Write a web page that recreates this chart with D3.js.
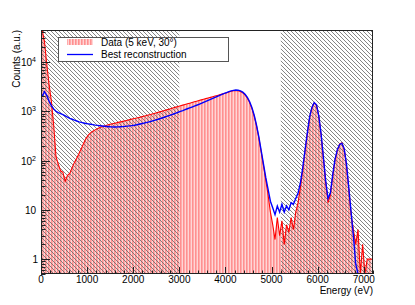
<!DOCTYPE html>
<html>
<head>
<meta charset="utf-8">
<script src="https://cdn.jsdelivr.net/npm/d3@7"></script>
<style>
  body { margin: 0; background: #fff; }
  text { font-family: "Liberation Sans", Arial, Helvetica, sans-serif; fill: #000; }
</style>
</head>
<body>
<svg id="chart"></svg>
<script>
const width = 415
const height = 305
const margin = {top: 30, right: 42, bottom: 31, left: 41}

// histogram binning (eV)
const binWidth = 50

// measured spectrum, 50 eV bins from 0 eV
const dataCounts = [
  45000, 26000, 9000, 3500, 1600, 520, 120, 85, 62, 58,
  38, 50, 55, 72, 92, 112, 140, 175, 225, 280,
  330, 365, 395, 420, 445, 468, 488, 505, 522, 538,
  552, 566, 580, 595, 610, 625, 642, 660, 678, 695,
  712, 730, 750, 770, 792, 815, 838, 862, 888, 914,
  942, 972, 1002, 1035, 1068, 1102, 1138, 1176, 1215, 1255,
  1295, 1335, 1375, 1418, 1462, 1508, 1555, 1605, 1655, 1705,
  1755, 1805, 1860, 1915, 1975, 2035, 2095, 2160, 2230, 2300,
  2380, 2460, 2540, 2610, 2640, 2610, 2530, 2380, 2160, 1860,
  1500, 1130, 790, 500, 285, 150, 78, 40, 20, 9,
  5, 2.5, 7, 3, 6, 2, 5, 3.5, 7, 4,
  9, 14, 28, 62, 150, 345, 740, 1180, 1480, 1330,
  790, 330, 110, 35, 14, 20, 47, 100, 160, 215,
  230, 170, 80, 26, 8, 4, 2, 4, 0, 2,
  0, 1, 1, 1
]

// best reconstruction, same bins
const recoCounts = [
  2000, 2500, 2100, 1600, 1300, 1120, 1000, 940, 900, 860,
  810, 760, 720, 690, 660, 635, 612, 595, 580, 565,
  555, 545, 535, 525, 517, 510, 504, 498, 492, 487,
  483, 480, 480, 482, 485, 489, 494, 499, 505, 512,
  520, 532, 545, 558, 572, 588, 604, 622, 640, 660,
  682, 705, 730, 758, 786, 816, 848, 882, 918, 955,
  995, 1035, 1080, 1125, 1170, 1220, 1270, 1325, 1385, 1450,
  1520, 1590, 1665, 1745, 1830, 1915, 2005, 2100, 2200, 2300,
  2400, 2500, 2590, 2660, 2700, 2680, 2600, 2450, 2220, 1920,
  1560, 1180, 820, 520, 300, 160, 85, 45, 26, 15,
  11, 8, 12, 9, 13, 9, 12, 10, 14, 13,
  17, 22, 35, 70, 160, 360, 760, 1200, 1500, 1350,
  800, 340, 115, 38, 17, 22, 50, 105, 165, 210,
  225, 175, 85, 28, 9, 3, 0.8, 0, 0, 0,
  0, 0, 0, 0
]

// energy ranges excluded from the fit (hatched)
const excludedRanges = [[0, 3000], [5200, 7200]]

const xDomain = [0, 7200]
const yDomain = [0.5, 44600]
const xTicks = [0, 1000, 2000, 3000, 4000, 5000, 6000, 7000]
const yTickExponents = [0, 1, 2, 3, 4]

const legendLabels = ['Data (5 keV, 30\u00b0)', 'Best reconstruction']

const plotW = width - margin.left - margin.right
const plotH = height - margin.top - margin.bottom

const x = d3.scaleLinear().domain(xDomain).range([margin.left, margin.left + plotW])
const y = d3.scaleLog().domain(yDomain).range([margin.top + plotH, margin.top]).clamp(true)

const svg = d3.select('#chart').attr('width', width).attr('height', height)

//patterns
const defs = svg.append('defs')

const grayHatch = defs.append('pattern')
  .attr('id', 'grayHatch')
  .attr('patternUnits', 'userSpaceOnUse')
  .attr('width', 4).attr('height', 4)
grayHatch.append('path')
  .attr('d', 'M-1,-1 L5,5 M-1,3 L1,5 M3,-1 L5,1')
  .attr('stroke', '#666').attr('stroke-width', 0.8)

const redStripes = defs.append('pattern')
  .attr('id', 'redStripes')
  .attr('patternUnits', 'userSpaceOnUse')
  .attr('width', 3).attr('height', 3)
redStripes.append('rect')
  .attr('x', 0).attr('y', 0).attr('width', 3).attr('height', 3)
  .attr('fill', '#ffd6d6')
redStripes.append('rect')
  .attr('x', 0).attr('y', 0).attr('width', 1.6).attr('height', 3)
  .attr('fill', '#ff9090')

defs.append('clipPath').attr('id', 'frameClip')
  .append('rect')
  .attr('x', margin.left).attr('y', margin.top)
  .attr('width', plotW).attr('height', plotH)

// turn bin values into step points (for the filled histogram)
function stepPoints(counts) {
  const pts = []
  counts.forEach((v, i) => {
    const val = Math.max(v, 0.01)
    pts.push([i * binWidth, val])
    pts.push([(i + 1) * binWidth, val])
  })
  return pts
}

// bin centres (for the lines)
function centrePoints(counts) {
  return counts.map((v, i) => [(i + 0.5) * binWidth, Math.max(v, 0.01)])
}

const plot = svg.append('g').attr('clip-path', 'url(#frameClip)')

// red hatched fill of the data
const area = d3.area()
  .x(d => x(d[0]))
  .y0(margin.top + plotH)
  .y1(d => y(d[1]))
plot.append('path')
  .datum(centrePoints(dataCounts))
  .attr('d', area)
  .attr('fill', 'url(#redStripes)')

// excluded regions
plot.selectAll('rect.excl')
  .data(excludedRanges)
  .enter().append('rect')
  .attr('class', 'excl')
  .attr('x', d => x(d[0]))
  .attr('y', margin.top)
  .attr('width', d => x(d[1]) - x(d[0]))
  .attr('height', plotH)
  .attr('fill', 'url(#grayHatch)')

const line = d3.line()
  .x(d => x(d[0]))
  .y(d => y(d[1]))

plot.append('path')
  .datum(centrePoints(dataCounts))
  .attr('d', line)
  .attr('fill', 'none')
  .attr('stroke', '#ff0000')
  .attr('stroke-width', 1.1)

plot.append('path')
  .datum(centrePoints(recoCounts))
  .attr('d', line)
  .attr('fill', 'none')
  .attr('stroke', '#0000ff')
  .attr('stroke-width', 1.4)

//frame
svg.append('rect')
  .attr('x', margin.left + 0.5).attr('y', margin.top + 0.5)
  .attr('width', plotW - 1).attr('height', plotH - 1)
  .attr('fill', 'none').attr('stroke', '#222').attr('stroke-width', 1)

//x axis ticks
const bottom = margin.top + plotH
const xMinor = d3.range(0, 7201, 200)
svg.append('g').selectAll('line')
  .data(xMinor)
  .enter().append('line')
  .attr('x1', d => Math.round(x(d)) + 0.5).attr('x2', d => Math.round(x(d)) + 0.5)
  .attr('y1', bottom)
  .attr('y2', d => bottom - (d % 1000 === 0 ? 7 : 3.5))
  .attr('stroke', '#222')

svg.append('g').selectAll('text')
  .data(xTicks)
  .enter().append('text')
  .attr('x', d => x(d))
  .attr('y', 283)
  .attr('text-anchor', 'middle')
  .attr('font-size', 10)
  .text(d => d)

svg.append('text')
  .attr('x', margin.left + plotW)
  .attr('y', 294)
  .attr('text-anchor', 'end')
  .attr('font-size', 10)
  .text('Energy (eV)')

//y axis ticks (log)
const yMinor = []
for (let e = -1; e <= 4; e++) {
  for (let m = 1; m <= 9; m++) {
    const v = m * Math.pow(10, e)
    if (v >= yDomain[0] && v <= yDomain[1]) yMinor.push({v: v, major: m === 1})
  }
}
svg.append('g').selectAll('line')
  .data(yMinor)
  .enter().append('line')
  .attr('x1', margin.left)
  .attr('x2', d => margin.left + (d.major ? 9 : 4.5))
  .attr('y1', d => Math.round(y(d.v)) + 0.5).attr('y2', d => Math.round(y(d.v)) + 0.5)
  .attr('stroke', '#222')

const yLabels = svg.append('g').selectAll('text')
  .data(yTickExponents)
  .enter().append('text')
  .attr('x', d => d === 0 ? 38 : 36)
  .attr('y', d => y(Math.pow(10, d)) + 4)
  .attr('text-anchor', 'end')
  .attr('font-size', 10)
yLabels.each(function (d) {
  const t = d3.select(this)
  if (d === 0) t.text('1')
  else if (d === 1) t.text('10')
  else {
    t.append('tspan').text('10')
    t.append('tspan').attr('dy', -4).attr('font-size', 7).text(d)
  }
})

svg.append('text')
  .attr('transform', `translate(20, ${margin.top}) rotate(-90)`)
  .attr('text-anchor', 'end')
  .attr('font-size', 10)
  .text('Counts (a.u.)')

//legend
const legend = svg.append('g')
legend.append('rect')
  .attr('x', 58.5).attr('y', 37.5)
  .attr('width', 170).attr('height', 24)
  .attr('fill', '#fff').attr('stroke', '#555').attr('stroke-width', 1)

legend.append('rect')
  .attr('x', 67).attr('y', 39)
  .attr('width', 26).attr('height', 6)
  .attr('fill', 'url(#redStripes)')

legend.append('line')
  .attr('x1', 67).attr('x2', 93)
  .attr('y1', 54.5).attr('y2', 54.5)
  .attr('stroke', '#0000ff').attr('stroke-width', 1.3)

legend.selectAll('text.lab')
  .data(legendLabels)
  .enter().append('text')
  .attr('class', 'lab')
  .attr('x', 101)
  .attr('y', (d, i) => 46 + i * 12)
  .attr('font-size', 10)
  .text(d => d)
</script>
</body>
</html>
